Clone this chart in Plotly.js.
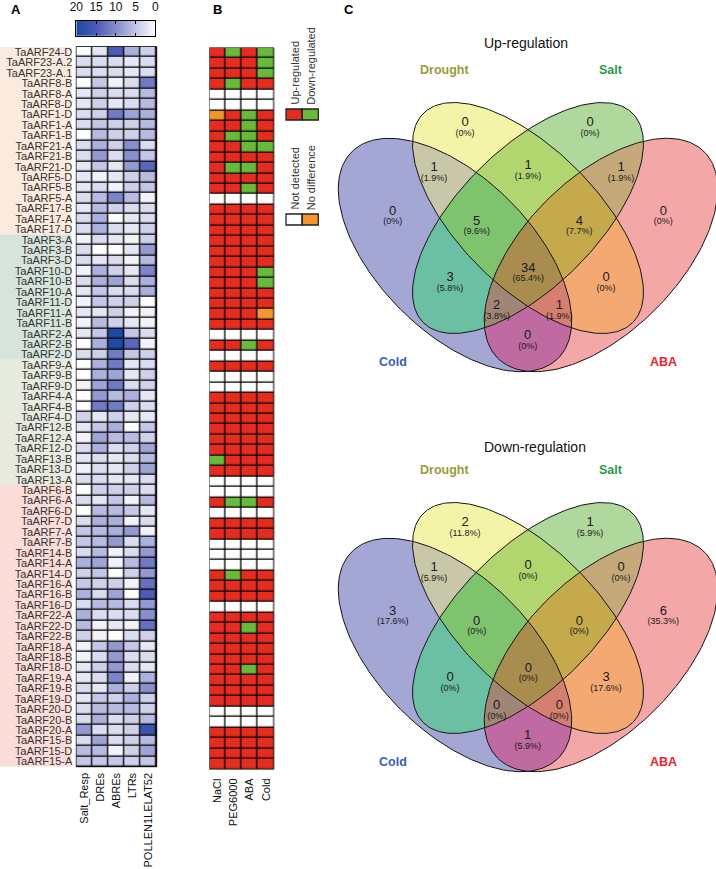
<!DOCTYPE html>
<html><head><meta charset="utf-8">
<script src="https://cdn.plot.ly/plotly-3.0.1.min.js"></script>
<style>html,body{margin:0;padding:0;background:#fff}#chart{width:716px;height:869px}</style>
</head><body><div id="chart"></div>
<script>
// ---------- Panel A data ----------
const genes = ['TaARF24-D','TaARF23-A.2','TaARF23-A.1','TaARF8-B','TaARF8-A','TaARF8-D','TaARF1-D','TaARF1-A','TaARF1-B',
 'TaARF21-A','TaARF21-B','TaARF21-D','TaARF5-D','TaARF5-B','TaARF5-A','TaARF17-B','TaARF17-A','TaARF17-D',
 'TaARF3-A','TaARF3-B','TaARF3-D','TaARF10-D','TaARF10-B','TaARF10-A','TaARF11-D','TaARF11-A','TaARF11-B',
 'TaARF2-A','TaARF2-B','TaARF2-D','TaARF9-A','TaARF9-B','TaARF9-D','TaARF4-A','TaARF4-B','TaARF4-D',
 'TaARF12-B','TaARF12-A','TaARF12-D','TaARF13-B','TaARF13-D','TaARF13-A','TaARF6-B','TaARF6-A','TaARF6-D',
 'TaARF7-D','TaARF7-A','TaARF7-B','TaARF14-B','TaARF14-A','TaARF14-D','TaARF16-A','TaARF16-B','TaARF16-D',
 'TaARF22-A','TaARF22-D','TaARF22-B','TaARF18-A','TaARF18-B','TaARF18-D','TaARF19-A','TaARF19-B','TaARF19-D',
 'TaARF20-D','TaARF20-B','TaARF20-A','TaARF15-B','TaARF15-D','TaARF15-A'];
const motifs = ['Salt_Resp','DREs','ABREs','LTRs','POLLEN1LELAT52'];
const saltResp = [0,3,3,0,2,2,3,3,0,3, 3,2,2,2,3,2,3,3,1,3, 3,1,3,2,1,2,1,2,0,3, 0,0,1,0,0,4,2,1,3,2, 1,3,0,3,0,3,5,5,3,7, 4,5,7,3,7,6,4,1,1,2, 2,3,2,3,3,9,3,6,5];
const dres     = [2,3,3,5,4,4,4,5,6,7, 9,5,1,3,6,6,7,7,3,0, 2,7,7,5,5,2,6,5,7,4, 7,7,8,9,12,2,5,8,7,3, 3,3,4,2,6,7,6,6,6,8, 5,4,3,6,3,1,1,5,3,4, 3,2,5,6,7,3,8,6,5];
const abres    = [15,3,3,1,3,2,12,4,4,4, 3,2,2,1,11,4,0,3,2,0, 3,4,8,3,4,4,4,20,20,12, 12,8,12,6,12,4,7,6,3,2, 2,2,4,5,6,7,7,9,1,1, 0,4,8,6,3,2,0,9,9,9, 11,7,4,6,3,3,3,1,5];
const ltrs     = [7,2,2,3,3,3,8,4,4,10, 10,9,4,4,6,3,2,2,1,2, 1,2,3,3,4,1,2,5,14,5, 2,2,3,7,4,2,0,6,4,3, 4,2,4,1,5,1,9,3,3,6, 4,1,0,3,3,1,3,5,3,3, 1,4,7,6,4,4,4,4,4];
const pollen   = [4,3,3,12,6,6,7,6,6,3, 5,14,6,5,1,3,3,4,4,9, 6,11,7,7,0,1,1,3,1,4, 3,4,4,2,3,2,5,4,8,6, 8,3,3,6,2,3,1,7,9,12, 9,13,15,9,10,13,4,2,3,2, 7,10,4,4,6,17,6,8,5];
const cbTicks = [20,15,10,5,0];
const geneGroups = [
  {first:'TaARF24-D', last:'TaARF17-D', color:'#fbeade'},
  {first:'TaARF3-A',  last:'TaARF2-D',  color:'#d6e4dc'},
  {first:'TaARF9-A',  last:'TaARF13-A', color:'#e7eadf'},
  {first:'TaARF6-B',  last:'TaARF15-A', color:'#fcdcd8'}];

// ---------- Panel B data (U = up, D = down, N = not detected, O = no difference) ----------
const treatments = ['NaCl','PEG6000','ABA','Cold'];
const nacl = ['U','U','U','U','N','N','O','U','U','U', 'U','U','U','U','N','U','U','U','U','U', 'U','U','U','U','U','U','U','N','U','N',
 'U','N','N','U','U','U','U','U','U','D', 'U','N','N','U','N','U','U','N','N','N', 'U','U','U','N','U','U','U','U','U','U', 'U','U','U','N','N','U','U','U','U'];
const peg = ['D','U','U','D','N','N','U','U','D','U', 'U','D','U','U','N','U','U','U','U','U', 'U','U','U','U','U','U','U','N','U','N',
 'U','N','N','U','U','U','U','U','U','U', 'U','N','N','D','N','U','U','N','N','N', 'D','U','U','N','U','U','U','U','U','U', 'U','U','U','N','N','U','U','U','U'];
const aba = ['U','U','U','U','N','N','D','D','D','D', 'U','D','U','D','N','U','U','U','U','U', 'U','U','U','U','U','U','U','N','D','N',
 'U','N','N','U','U','U','U','U','U','U', 'U','N','N','D','N','U','U','N','N','N', 'U','U','U','N','U','D','U','U','U','D', 'U','U','U','N','N','U','U','U','U'];
const cold = ['D','D','D','U','N','N','U','U','U','D', 'U','U','U','U','N','U','U','U','U','U', 'U','D','D','U','U','O','U','N','U','N',
 'U','N','N','U','U','U','U','U','U','U', 'U','N','N','U','N','U','U','N','N','N', 'U','U','U','N','U','U','U','U','U','U', 'U','U','U','N','N','U','U','U','U'];
const statusCodes = {U:0, D:1, N:2, O:3};
const statusLabels = ['Up-regulated','Down-regulated','Not detected','No difference'];

// ---------- Panel C data ----------
const vennSets = ['Cold','Drought','Salt','ABA'];
const vennRegions = ['Cold','Drought','Salt','ABA','Cold&Drought','Drought&Salt','Salt&ABA','Cold&Drought&Salt',
 'Drought&Salt&ABA','Cold&Salt','All','Drought&ABA','Cold&Salt&ABA','Cold&Drought&ABA','Cold&ABA'];
const upCounts = [0,0,0,0,1,1,1,5,4,3,34,0,2,1,0];
const upPct = ['0%','0%','0%','0%','1.9%','1.9%','1.9%','9.6%','7.7%','5.8%','65.4%','0%','3.8%','1.9%','0%'];
const downCounts = [3,2,1,6,1,0,0,0,0,0,0,3,0,0,1];
const downPct = ['17.6%','11.8%','5.9%','35.3%','5.9%','0%','0%','0%','0%','0%','0%','17.6%','0%','0%','5.9%'];

// ---------- styling / geometry ----------
const FONT = 'Liberation Sans, Arial, Helvetica, sans-serif';
const W = 716, H = 869;
const px = v => v / W, py = v => 1 - v / H;
const regionPos = [[392.7,211.7],[465,123],[590,123],[663.3,211.7],[434,168],[528,166],[621,168],[476.7,221.7],
 [579.3,221.7],[450,278],[528.3,268.3],[606,278],[496.7,306],[559.3,306],[527.7,336]];
const ellipseGeom = [
 {cx:455,cy:255,a:146,b:77,ang:45},
 {cx:528,cy:218,a:148,b:69,ang:45},
 {cx:528,cy:218,a:148,b:69,ang:135},
 {cx:601,cy:255,a:146,b:77,ang:135}];
// colour of each membership combination (bit 1 Cold, 2 Drought, 4 Salt, 8 ABA)
const regionColors = ['#a4a6d4','#f4f4a9','#c9c7a9','#aed89c','#6bc0a4','#b1d66f','#80c36f',
 '#f4a7a7','#c06aa2','#f4a872','#d57f70','#c6a97a','#a08675','#c5a94d','#a98d4f'];
const setLabelPos = [[392.7,361.7,'#3b5cc0'],[444.3,70,'#9a9a38'],[611,70,'#2f9a4a'],[663.3,361.7,'#e8232a']];
const vennOffsets = [0, 400];
const blueScale = [[0,'#ffffff'],[0.12,'#e0e2f2'],[0.25,'#c4c7e7'],[0.4,'#9fa4d6'],[0.55,'#7d84c8'],[0.75,'#4c5cb6'],[1,'#1c48a6']];

const motifCols = [saltResp, dres, abres, ltrs, pollen];
const zA = genes.map((g,i) => motifCols.map(c => c[i]));
const statusCols = [nacl, peg, aba, cold];
const zB = genes.map((g,i) => statusCols.map(c => statusCodes[c[i]]));

const traces = [];
traces.push({type:'heatmap', x:motifs, y:genes, z:zA, xaxis:'x', yaxis:'y', zmin:0, zmax:20, colorscale:blueScale,
  showscale:false, xgap:1.3, ygap:1.3, hoverinfo:'skip'});
traces.push({type:'heatmap', x:treatments, y:genes, z:zB, xaxis:'x2', yaxis:'y2', zmin:0, zmax:3, showscale:false,
  colorscale:[[0,'#e52d1f'],[0.1667,'#e52d1f'],[0.1667,'#69ba3a'],[0.5,'#69ba3a'],[0.5,'#ffffff'],[0.8333,'#ffffff'],[0.8333,'#f3962b'],[1,'#f3962b']],
  xgap:1.3, ygap:1.3, hoverinfo:'skip'});
traces.push({type:'heatmap', x:cbTicks, y:[0], z:[cbTicks], xaxis:'x4', yaxis:'y4', zmin:0, zmax:20, colorscale:blueScale,
  zsmooth:'best', showscale:false, hoverinfo:'skip'});

// ---- Venn region fills (membership map) ----
function ellFrame(e){ const r=e.ang*Math.PI/180; return {c:Math.cos(r), s:Math.sin(r)}; }
function inside(e, off, x, y){
  const f = ellFrame(e), dx = x-e.cx, dy = y-(e.cy+off);
  const u = dx*f.c + dy*f.s, v = -dx*f.s + dy*f.c;
  return (u/e.a)*(u/e.a) + (v/e.b)*(v/e.b) <= 1;
}
const gx = [], gy = [];
for (let x=330.5; x<716; x+=1) gx.push(x);
for (let y=90.5; y<790; y+=1) gy.push(y);
const gz = gy.map(y => {
  const off = y < 420 ? 0 : 400;
  return gx.map(x => {
    let m = 0;
    ellipseGeom.forEach((e,k) => { if (inside(e, off, x, y)) m |= (1<<k); });
    return m ? m : null;
  });
});
const regionScale = [];
regionColors.forEach((c,i) => { regionScale.push([i/15, c]); regionScale.push([(i+1)/15, c]); });
traces.push({type:'heatmap', x:gx, y:gy, z:gz, xaxis:'x3', yaxis:'y3', zmin:0.5, zmax:15.5, colorscale:regionScale,
  showscale:false, hoverinfo:'skip'});

function ellipsePts(e, off){
  const f = ellFrame(e), xs = [], ys = [];
  for (let k=0; k<=240; k++) {
    const t = 2*Math.PI*k/240;
    xs.push(e.cx + e.a*Math.cos(t)*f.c - e.b*Math.sin(t)*f.s);
    ys.push(e.cy + off + e.a*Math.cos(t)*f.s + e.b*Math.sin(t)*f.c);
  }
  return {xs, ys};
}
vennOffsets.forEach(off => ellipseGeom.forEach(e => {
  const p = ellipsePts(e, off);
  traces.push({type:'scatter', mode:'lines', x:p.xs, y:p.ys, xaxis:'x3', yaxis:'y3', line:{color:'#151515', width:1}, hoverinfo:'skip'});
}));

const shapes = [];
const annotations = [];
geneGroups.forEach(g => {
  shapes.push({type:'rect', xref:'paper', yref:'y', x0:0, x1:px(71.7), y0:genes.indexOf(g.first)-0.5, y1:genes.indexOf(g.last)+0.5,
    fillcolor:g.color, line:{width:0}, layer:'below'});
});
shapes.push({type:'rect', xref:'x domain', yref:'y domain', x0:0, x1:1, y0:0, y1:1, fillcolor:'#000', line:{color:'#000',width:1}, layer:'below'});
shapes.push({type:'rect', xref:'x2 domain', yref:'y2 domain', x0:0, x1:1, y0:0, y1:1, fillcolor:'#000', line:{color:'#666',width:1}, layer:'below'});

// Panel B legend
const legendBoxes = [[286,109,'#e52d1f'],[302.3,109,'#69ba3a'],[286,214,'#ffffff'],[302.3,214,'#f3962b']];
legendBoxes.forEach(b => shapes.push({type:'rect', xref:'x3', yref:'y3', x0:b[0], x1:b[0]+16, y0:b[1], y1:b[1]+11,
  fillcolor:b[2], line:{color:'#222', width:1.3}}));
const legendText = [[294.5,107],[310.8,107],[294.5,212],[310.8,212]];
statusLabels.forEach((t,i) => annotations.push({xref:'x3', yref:'y3', x:legendText[i][0], y:legendText[i][1], text:t, showarrow:false,
  textangle:-90, xanchor:'center', yanchor:'bottom', font:{family:FONT, size:11, color:'#333'}}));

vennOffsets.forEach(off => {
  vennSets.forEach((s,i) => annotations.push({xref:'x3', yref:'y3', x:setLabelPos[i][0], y:setLabelPos[i][1]+off, text:'<b>'+s+'</b>',
    showarrow:false, font:{family:FONT, size:12.5, color:setLabelPos[i][2]}}));
});
[[upCounts, upPct, 0],[downCounts, downPct, 400]].forEach(([cnt, pct, off]) => {
  traces.push({type:'scatter', mode:'text', xaxis:'x3', yaxis:'y3', x:regionPos.map(p=>p[0]), y:regionPos.map(p=>p[1]+off),
    text:cnt.map(String), textfont:{family:FONT, size:13, color:'#1a1a1a'}, hoverinfo:'skip', cliponaxis:false});
  traces.push({type:'scatter', mode:'text', xaxis:'x3', yaxis:'y3', x:regionPos.map(p=>p[0]), y:regionPos.map(p=>p[1]+off+10.5),
    text:pct.map(v=>'('+v+')'), textfont:{family:FONT, size:9, color:'#1a1a1a'}, hoverinfo:'skip', cliponaxis:false});
});

annotations.push({xref:'x3', yref:'y3', x:481.7, y:43.3, xanchor:'left', text:'Up-regulation', showarrow:false, font:{family:FONT, size:14, color:'#111'}});
annotations.push({xref:'x3', yref:'y3', x:481.7, y:447.3, xanchor:'left', text:'Down-regulation', showarrow:false, font:{family:FONT, size:14, color:'#111'}});
[['A',16],['B',217],['C',349]].forEach(([t,x]) => annotations.push({xref:'x3', yref:'y3', x:x, y:9.5, text:'<b>'+t+'</b>', showarrow:false,
  font:{family:FONT, size:13, color:'#000'}}));

const tickFont = {family:FONT, size:11, color:'#333'};
const layout = {
  width:W, height:H, margin:{l:0,r:0,t:0,b:0}, paper_bgcolor:'#fff', plot_bgcolor:'rgba(0,0,0,0)', showlegend:false,
  xaxis:{domain:[px(76.3), px(156.7)], anchor:'y', type:'category', tickangle:-90, showgrid:false, zeroline:false, showline:false,
    ticks:'', tickfont:{family:FONT, size:11, color:'#111'}, ticklabelstandoff:3, fixedrange:true},
  yaxis:{domain:[py(766.7), py(46.7)], anchor:'x', type:'category', autorange:'reversed', showgrid:false, zeroline:false, showline:false,
    ticks:'', tickmode:'array', tickvals:genes, ticktext:genes, tickfont:tickFont, ticklabelstandoff:3, fixedrange:true},
  xaxis2:{domain:[px(209.5), px(274)], anchor:'y2', type:'category', tickangle:-90, showgrid:false, zeroline:false, showline:false,
    ticks:'', tickfont:{family:FONT, size:11, color:'#111'}, ticklabelstandoff:6, fixedrange:true},
  yaxis2:{domain:[py(769.3), py(47.7)], anchor:'x2', type:'category', autorange:'reversed', showticklabels:false, showgrid:false,
    zeroline:false, showline:false, ticks:'', fixedrange:true},
  xaxis3:{domain:[0,1], anchor:'y3', range:[0,W], visible:false, fixedrange:true},
  yaxis3:{domain:[0,1], anchor:'x3', range:[H,0], visible:false, fixedrange:true},
  xaxis4:{domain:[px(76.3), px(155.3)], anchor:'y4', side:'top', range:[20,0], tickmode:'array', tickvals:cbTicks, ticktext:cbTicks.map(String),
    ticks:'inside', ticklen:3, tickcolor:'#000', tickwidth:1, showline:true, linecolor:'#000', linewidth:1, mirror:'ticks',
    showgrid:false, zeroline:false, tickfont:{family:FONT, size:12, color:'#111'}, ticklabelstandoff:4, fixedrange:true},
  yaxis4:{domain:[py(35.7), py(21)], anchor:'x4', range:[-0.5,0.5], showline:true, linecolor:'#000', linewidth:1, mirror:true,
    showticklabels:false, ticks:'', showgrid:false, zeroline:false, fixedrange:true},
  shapes:shapes, annotations:annotations
};
Plotly.newPlot('chart', traces, layout, {displayModeBar:false, staticPlot:true});
</script></body></html>
